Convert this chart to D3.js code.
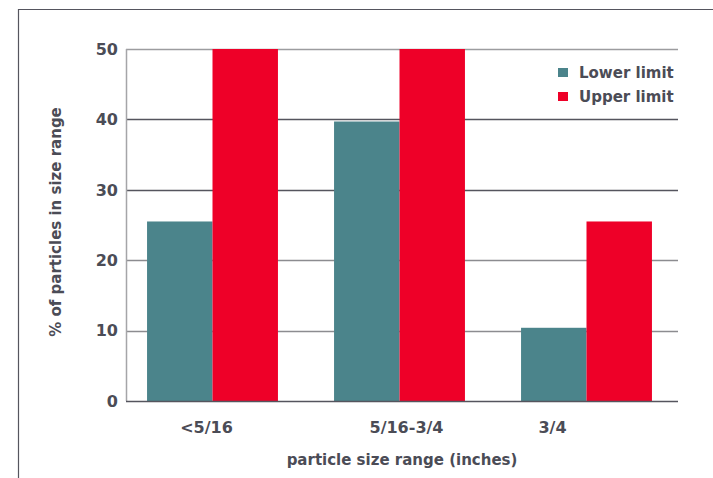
<!DOCTYPE html>
<html>
<head>
<meta charset="utf-8">
<script src="https://cdn.jsdelivr.net/npm/d3@7"></script>
<style>
  html, body { margin: 0; padding: 0; background: #fff; }
  svg { display: block; font-family: "DejaVu Sans", Lato, sans-serif; font-weight: 700; }
</style>
</head>
<body>
<svg id="chart" width="713" height="478"></svg>
<script>
// Particle size distribution: lower and upper limits per size range
const categories = ["<5/16", "5/16-3/4", "3/4"];
const seriesNames = ["Lower limit", "Upper limit"];
const lowerLimit = [25.5, 39.7, 10.4];
const upperLimit = [50, 50, 25.5];
const yTicks = [0, 10, 20, 30, 40, 50];

const colors = { "Lower limit": "#4b848b", "Upper limit": "#ee0028" };
const textColor = "#4b4c56";

const svg = d3.select("#chart");

// frame around the figure (top and left edges)
svg.append("line").attr("x1", 18).attr("x2", 713).attr("y1", 9.5).attr("y2", 9.5)
  .attr("stroke", "#55555e").attr("stroke-width", 1.2);
svg.append("line").attr("x1", 18.5).attr("x2", 18.5).attr("y1", 9).attr("y2", 478)
  .attr("stroke", "#55555e").attr("stroke-width", 1.2);

const plot = { left: 126, right: 678, top: 49, bottom: 401 };

const y = d3.scaleLinear().domain([0, 50]).range([plot.bottom, plot.top]);
const x0 = d3.scaleBand().domain(categories).range([119, 680])
  .paddingInner(0.3).paddingOuter(0.15);
const x1 = d3.scaleBand().domain(seriesNames).range([0, x0.bandwidth()]);

const rows = categories.map((c, i) => ({
  category: c,
  values: [
    { key: "Lower limit", value: lowerLimit[i] },
    { key: "Upper limit", value: upperLimit[i] }
  ]
}));

// horizontal grid lines
const gridColor = { 10: "#8c8c90", 20: "#8c8c90", 30: "#55555e", 40: "#55555e", 50: "#9c9c9f" };
svg.append("g").selectAll("line").data(yTicks.filter(t => t > 0)).join("line")
  .attr("x1", plot.left).attr("x2", plot.right)
  .attr("y1", d => Math.round(y(d)) + 0.5).attr("y2", d => Math.round(y(d)) + 0.5)
  .attr("stroke", d => gridColor[d]).attr("stroke-width", 1.5);

// bars
svg.append("g").selectAll("g").data(rows).join("g")
  .attr("transform", d => `translate(${x0(d.category)},0)`)
  .selectAll("rect").data(d => d.values).join("rect")
  .attr("x", d => x1(d.key))
  .attr("width", x1.bandwidth())
  .attr("y", d => y(d.value))
  .attr("height", d => y(0) - y(d.value))
  .attr("fill", d => colors[d.key]);

// axes lines
svg.append("line").attr("x1", plot.left + 0.5).attr("x2", plot.left + 0.5)
  .attr("y1", plot.top).attr("y2", plot.bottom)
  .attr("stroke", "#a5a5a8").attr("stroke-width", 1.5);
svg.append("line").attr("x1", plot.left).attr("x2", plot.right)
  .attr("y1", plot.bottom + 0.5).attr("y2", plot.bottom + 0.5)
  .attr("stroke", "#55555e").attr("stroke-width", 1.5);

// y tick labels
svg.append("g").selectAll("text").data(yTicks).join("text")
  .attr("x", 118).attr("y", d => y(d)).attr("dy", "0.36em")
  .attr("text-anchor", "end").attr("fill", textColor)
  .attr("font-size", 16).text(d => d);

// category labels
const labelShift = [-6, 7, -34];
svg.append("g").selectAll("text").data(categories).join("text")
  .attr("x", (d, i) => x0(d) + x0.bandwidth() / 2 + labelShift[i])
  .attr("y", 433).attr("text-anchor", "middle").attr("fill", textColor)
  .attr("font-size", 16).text(d => d);

// axis titles
svg.append("text").attr("x", 402).attr("y", 465).attr("text-anchor", "middle")
  .attr("fill", textColor).attr("font-size", 15).text("particle size range (inches)");
svg.append("text").attr("transform", "translate(61,222) rotate(-90)")
  .attr("text-anchor", "middle").attr("fill", textColor).attr("font-size", 15)
  .text("% of particles in size range");

// legend
const legend = svg.append("g").selectAll("g").data(seriesNames).join("g")
  .attr("transform", (d, i) => `translate(558,${68 + i * 24})`);
legend.append("rect").attr("width", 10).attr("height", 9).attr("fill", d => colors[d]);
legend.append("text").attr("x", 21).attr("y", 10).attr("fill", textColor)
  .attr("font-size", 15).text(d => d);
</script>
</body>
</html>
